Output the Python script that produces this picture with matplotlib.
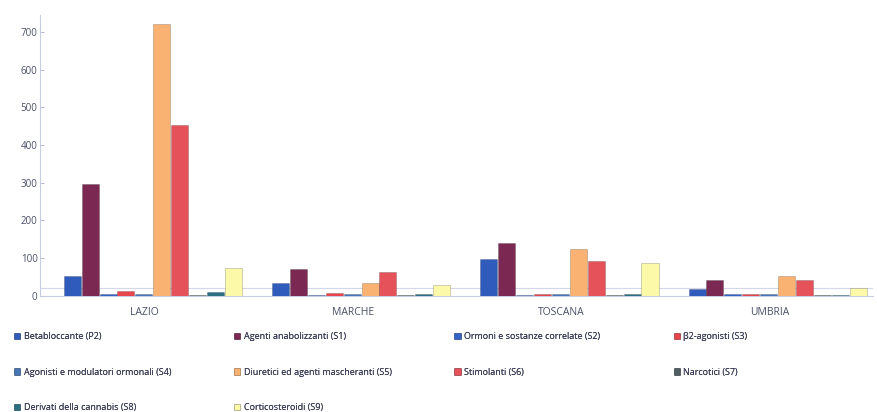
import matplotlib
matplotlib.use("Agg")
import matplotlib.pyplot as plt
import numpy as np

regions = ["LAZIO", "MARCHE", "TOSCANA", "UMBRIA"]
series_names = [
    "Betabloccante (P2)",
    "Agenti anabolizzanti (S1)",
    "Ormoni e sostanze correlate (S2)",
    "β2-agonisti (S3)",
    "Agonisti e modulatori ormonali (S4)",
    "Diuretici ed agenti mascheranti (S5)",
    "Stimolanti (S6)",
    "Narcotici (S7)",
    "Derivati della cannabis (S8)",
    "Corticosteroidi (S9)",
]
p2 = [53, 34, 97, 18]
s1 = [297, 71, 139, 42]
s2 = [5, 3, 3, 4]
s3 = [12, 8, 5, 5]
s4 = [5, 4, 4, 4]
s5 = [722, 34, 124, 53]
s6 = [453, 63, 92, 42]
s7 = [3, 3, 3, 2]
s8 = [10, 6, 5, 3]
s9 = [75, 29, 87, 21]
values = [p2, s1, s2, s3, s4, s5, s6, s7, s8, s9]
colors = ["#2f5bbd", "#7b2852", "#3463c8", "#e8464c", "#4677b4",
          "#f9b272", "#e6525a", "#4f5f63", "#2b6f80", "#fcf9a8"]
y_ticks = [0, 100, 200, 300, 400, 500, 600, 700]

plt.rcParams['font.family'] = ['Open Sans', 'DejaVu Sans']
fig = plt.figure(figsize=(8.77, 4.12), dpi=100)
ax = fig.add_axes([0.046, 0.282, 0.95, 0.682])

n = len(values)
bw = 0.086
x = np.arange(len(regions))
handles = []
for i, (vals, c) in enumerate(zip(values, colors)):
    off = (i - (n - 1) / 2) * bw + 0.04
    b = ax.bar(x + off, vals, width=bw * 0.95, color=c,
               edgecolor=matplotlib.colors.to_rgba("#000000", 0.25),
               linewidth=0.5, label=series_names[i], zorder=3)
    handles.append(b)

ax.set_xlim(-0.5, len(regions) - 0.5)
ax.set_ylim(0, 745)
ax.set_yticks(y_ticks)
ax.set_yticklabels([str(t) for t in y_ticks], fontsize=7, color="#4a4f66")
ax.set_xticks(x)
ax.set_xticklabels(regions, fontsize=7.5, color="#4a4f66")
ax.tick_params(axis='x', length=0, pad=8)
ax.tick_params(axis='y', length=3, color="#b8bcd6", direction='in', pad=2)
for s in ['top', 'right']:
    ax.spines[s].set_visible(False)
ax.spines['left'].set_color("#c8cce0")
ax.spines['bottom'].set_color("#c8cce0")
ax.axhline(20, color="#d4d7ea", lw=0.8, zorder=1)

columns = [[0, 4, 8], [1, 5, 9], [2, 6], [3, 7]]
col_x = [0.016, 0.267, 0.518, 0.768]
for cx, idxs in zip(col_x, columns):
    leg = fig.legend([handles[i] for i in idxs], [series_names[i] for i in idxs],
                     ncol=1, loc='upper left', bbox_to_anchor=(cx, 1 - 332 / 412),
                     frameon=False, fontsize=6.5,
                     handlelength=0.7, handleheight=0.7, handletextpad=0.4,
                     labelspacing=2.95, borderaxespad=0.0, borderpad=0.0)
    for t in leg.get_texts():
        t.set_color("#3a3d55")
    fig.add_artist(leg)

fig.savefig("out.png", dpi=100)
